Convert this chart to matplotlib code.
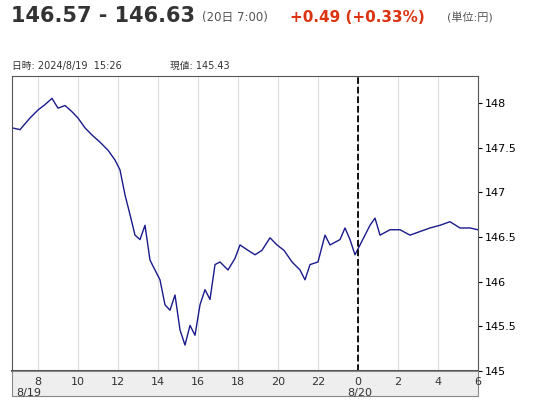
import matplotlib.pyplot as plt
from matplotlib.patches import Rectangle

plt.rcParams['font.family'] = ['DejaVu Sans', 'Noto Sans CJK JP']

# hours since 8/19 0:00, price
hours = [6.7, 7.1, 7.6, 8.0, 8.35, 8.7, 9.0, 9.35, 9.7, 10.0, 10.35, 10.7, 11.1, 11.5,
         11.85, 12.1, 12.35, 12.6, 12.85, 13.1, 13.35, 13.6, 13.85, 14.1, 14.35, 14.6,
         14.85, 15.1, 15.35, 15.6, 15.85, 16.1, 16.35, 16.6, 16.85, 17.1, 17.5, 17.85,
         18.1, 18.5, 18.85, 19.2, 19.6, 19.95, 20.3, 20.7, 21.1, 21.35, 21.6, 22.0, 22.35,
         22.6, 23.1, 23.35, 23.6, 23.85, 24.1, 24.35, 24.6, 24.85, 25.1, 25.6, 26.1, 26.6,
         27.1, 27.6, 28.1, 28.6, 29.1, 29.6, 30.0]
prices = [147.72, 147.70, 147.83, 147.92, 147.98, 148.05, 147.94, 147.97, 147.90, 147.83,
          147.72, 147.64, 147.56, 147.47, 147.36, 147.25, 146.97, 146.75, 146.52, 146.47,
          146.63, 146.24, 146.13, 146.02, 145.74, 145.68, 145.85, 145.46, 145.29, 145.51,
          145.40, 145.74, 145.91, 145.80, 146.19, 146.22, 146.13, 146.26, 146.41, 146.35,
          146.30, 146.35, 146.49, 146.41, 146.35, 146.22, 146.13, 146.02, 146.19, 146.22,
          146.52, 146.41, 146.47, 146.60, 146.47, 146.30, 146.41, 146.52, 146.63, 146.71,
          146.52, 146.58, 146.58, 146.52, 146.56, 146.60, 146.63, 146.67, 146.60, 146.60,
          146.58]
tick_hours = [8, 10, 12, 14, 16, 18, 20, 22, 24, 26, 28, 30]
tick_labels = ['8', '10', '12', '14', '16', '18', '20', '22', '0', '2', '4', '6']
y_ticks = [145, 145.5, 146, 146.5, 147, 147.5, 148]
y_labels = ['145', '145.5', '146', '146.5', '147', '147.5', '148']

fig = plt.figure(figsize=(5.5, 4), dpi=100)
fig.patch.set_facecolor('white')
ax = fig.add_axes([12 / 550, 29 / 400, 466 / 550, 295 / 400])
ax.plot(hours, prices, color='#1a1a8c', lw=1)
ax.axvline(24, color='black', ls='--', lw=1.3)
ax.set_xlim(6.7, 30.0)
ax.set_ylim(145, 148.3)
ax.set_xticks(tick_hours)
ax.set_xticklabels([])
ax.tick_params(axis='x', length=0)
ax.grid(axis='x', color='#dddddd', lw=0.8)
ax.yaxis.tick_right()
ax.set_yticks(y_ticks)
ax.set_yticklabels(y_labels)
ax.tick_params(axis='y', length=3, labelsize=8, pad=2)
for s in ax.spines.values():
    s.set_color('#555555')
ax.spines['bottom'].set_linewidth(1.5)

# gray time band
fig.patches.append(Rectangle((12 / 550, 4 / 400), 466 / 550, 25 / 400,
                             transform=fig.transFigure, facecolor='#eeeeee',
                             edgecolor='#888888', lw=0.8))
for h, lab in zip(tick_hours, tick_labels):
    xf = (12 + (h - 6.7) * 20) / 550
    fig.text(xf, 18 / 400, lab, ha='center', va='center', fontsize=8, color='#333333')
fig.text(16 / 550, 7 / 400, '8/19', fontsize=8, color='#333333', va='center')
fig.text(347 / 550, 7 / 400, '8/20', fontsize=8, color='#333333', va='center')

# header
fig.text(11 / 550, 384 / 400, '146.57 - 146.63', fontsize=15, fontweight='bold',
         color='#333333', va='center')
fig.text(202 / 550, 382 / 400, '(20日 7:00)', fontsize=8.5, color='#555555', va='center')
fig.text(290 / 550, 382 / 400, '+0.49 (+0.33%)', fontsize=11, fontweight='bold',
         color='#dd3311', va='center')
fig.text(447 / 550, 382 / 400, '(単位:円)', fontsize=8, color='#555555', va='center')
fig.text(12 / 550, 334 / 400, '日時: 2024/8/19  15:26', fontsize=7, color='#333333', va='center')
fig.text(170 / 550, 334 / 400, '現値: 145.43', fontsize=7, color='#333333', va='center')

fig.savefig('out.png', dpi=100)
